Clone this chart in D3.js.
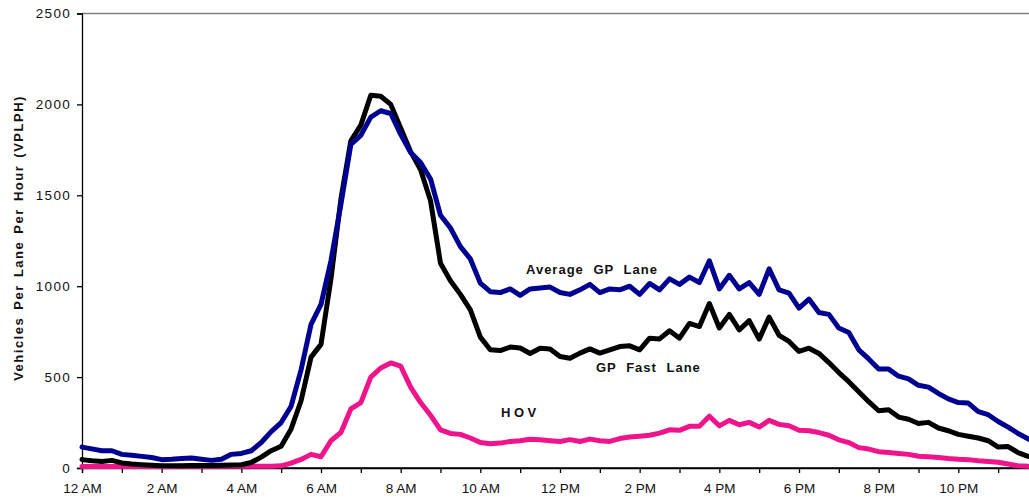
<!DOCTYPE html>
<html>
<head>
<meta charset="utf-8">
<script src="https://cdn.jsdelivr.net/npm/d3@7"></script>
<style>
  html, body { margin: 0; padding: 0; background: #fff; }
  svg { display: block; }
  text { font-family: "Liberation Sans", Arial, sans-serif; }
</style>
</head>
<body>
<svg id="chart" width="1029" height="500"></svg>
<script>
// ---- Data (hours since midnight, 15-minute steps) ----
const hours = d3.range(0, 24.001, 0.25);

const averageGP = [
  115,105,95,95, 75,70,64,58, 46,48,52,55, 48,42,48,75,
  80,95,140,200, 250,340,540,790, 900,1140,1450,1780, 1830,1930,1965,1950,
  1835,1735,1680,1590, 1390,1320,1218,1150, 1017,970,965,985, 950,985,990,995,
  965,955,980,1010, 965,985,980,1000, 955,1015,980,1040, 1010,1050,1020,1140,
  985,1060,985,1020, 955,1095,980,962, 880,929,855,845, 770,745,650,600,
  545,544,505,490, 455,445,410,380, 360,357,310,293, 256,225,190,160, 140
];

const gpFast = [
  46,40,36,42, 28,22,18,15, 13,12,12,14, 14,14,15,17,
  18,30,60,95, 120,215,370,610, 680,1040,1480,1800, 1886,2050,2045,2000,
  1870,1740,1640,1470, 1126,1030,955,870, 720,650,646,665, 660,630,659,655,
  613,604,632,655, 632,650,668,672, 650,714,710,755, 714,795,778,905,
  770,845,760,811, 709,830,730,696, 641,659,630,580, 525,475,420,365,
  315,320,280,268, 245,251,220,205, 185,175,165,150, 115,118,85,64, 55
];

const hov = [
  8,8,8,8, 8,8,8,8, 8,8,9,9, 9,9,9,10,
  10,10,10,10, 12,27,47,75, 62,150,195,325, 360,500,550,578,
  560,445,360,290, 210,190,185,165, 140,133,137,146, 150,158,155,150,
  146,156,146,159, 150,146,162,170, 175,180,192,210, 207,229,229,285,
  232,262,238,251, 225,262,240,232, 208,205,195,180, 155,140,112,104,
  90,85,80,75, 65,62,58,52, 48,46,40,36, 32,22,12,9, 8
];

const yTicks = [0, 500, 1000, 1500, 2000, 2500];
const xTickHours = d3.range(0, 24, 1);
const xTickLabels = ["12 AM","2 AM","4 AM","6 AM","8 AM","10 AM",
                     "12 PM","2 PM","4 PM","6 PM","8 PM","10 PM"];
const seriesNames = ["Average GP Lane", "GP Fast Lane", "HOV"];

// ---- Layout ----
const svg = d3.select("#chart");
const x = d3.scaleLinear().domain([0, 24]).range([82, 1038]);
const y = d3.scaleLinear().domain([0, 2500]).range([468, 13.5]);

// top border line (gray)
svg.append("line")
  .attr("x1", x(0)).attr("x2", 1029)
  .attr("y1", y(2500)).attr("y2", y(2500))
  .attr("stroke", "#808080").attr("stroke-width", 1.3);

// Y axis
const yAxis = svg.append("g")
  .attr("transform", `translate(${x(0)},0)`)
  .call(d3.axisLeft(y).tickValues(yTicks).tickSize(5).tickPadding(6).tickFormat(d3.format("d")));
yAxis.select(".domain").attr("stroke", "#000").attr("stroke-width", 1.3);
yAxis.selectAll(".tick line").attr("stroke", "#000").attr("stroke-width", 1.3);
yAxis.selectAll(".tick text")
  .attr("font-size", "13.5px")
  .attr("letter-spacing", "1.3px")
  .attr("fill", "#111")
  .style("font-family", "'Liberation Sans', Arial, sans-serif");

// X axis
const xAxis = svg.append("g")
  .attr("transform", `translate(0,${y(0)})`)
  .call(d3.axisBottom(x).tickValues(xTickHours).tickSize(5).tickPadding(10)
    .tickFormat(h => (h % 2 === 0 ? xTickLabels[h / 2] : "")));
xAxis.select(".domain").attr("stroke", "#000").attr("stroke-width", 1.3);
xAxis.selectAll(".tick line").attr("stroke", "#000").attr("stroke-width", 1.3);
xAxis.selectAll(".tick text")
  .attr("font-size", "13.5px")
  .attr("fill", "#111")
  .style("font-family", "'Liberation Sans', Arial, sans-serif");
svg.append("line")
  .attr("x1", x(0)).attr("x2", 1029)
  .attr("y1", y(0)).attr("y2", y(0))
  .attr("stroke", "#000").attr("stroke-width", 1.3);

// Y axis title
svg.append("text")
  .attr("transform", "translate(23,238) rotate(-90)")
  .attr("text-anchor", "middle")
  .attr("font-size", "13px")
  .attr("font-weight", "bold")
  .attr("letter-spacing", "1.5px")
  .attr("word-spacing", "2px")
  .attr("fill", "#111")
  .text("Vehicles Per Lane Per Hour (VPLPH)");

// Lines
const line = d3.line().x((d, i) => x(hours[i])).y(d => y(d));
const series = [
  { data: hov, color: "#F0148C" },
  { data: gpFast, color: "#000000" },
  { data: averageGP, color: "#000091" }
];
series.forEach(s => {
  svg.append("path")
    .datum(s.data)
    .attr("fill", "none")
    .attr("stroke", s.color)
    .attr("stroke-width", 5)
    .attr("stroke-linejoin", "round")
    .attr("stroke-linecap", "round")
    .attr("d", line);
});

// Series labels
const labelPos = [
  { text: seriesNames[0], x: 526, y: 274, ls: 1, ws: 5 },
  { text: seriesNames[1], x: 596, y: 372, ls: 1, ws: 5 },
  { text: seriesNames[2], x: 501, y: 417, ls: 3.5, ws: 0 }
];
labelPos.forEach(l => {
  svg.append("text")
    .attr("x", l.x).attr("y", l.y)
    .attr("font-size", "13px")
    .attr("font-weight", "bold")
    .attr("letter-spacing", l.ls + "px")
    .attr("word-spacing", l.ws + "px")
    .attr("fill", "#111")
    .text(l.text);
});
</script>
</body>
</html>
